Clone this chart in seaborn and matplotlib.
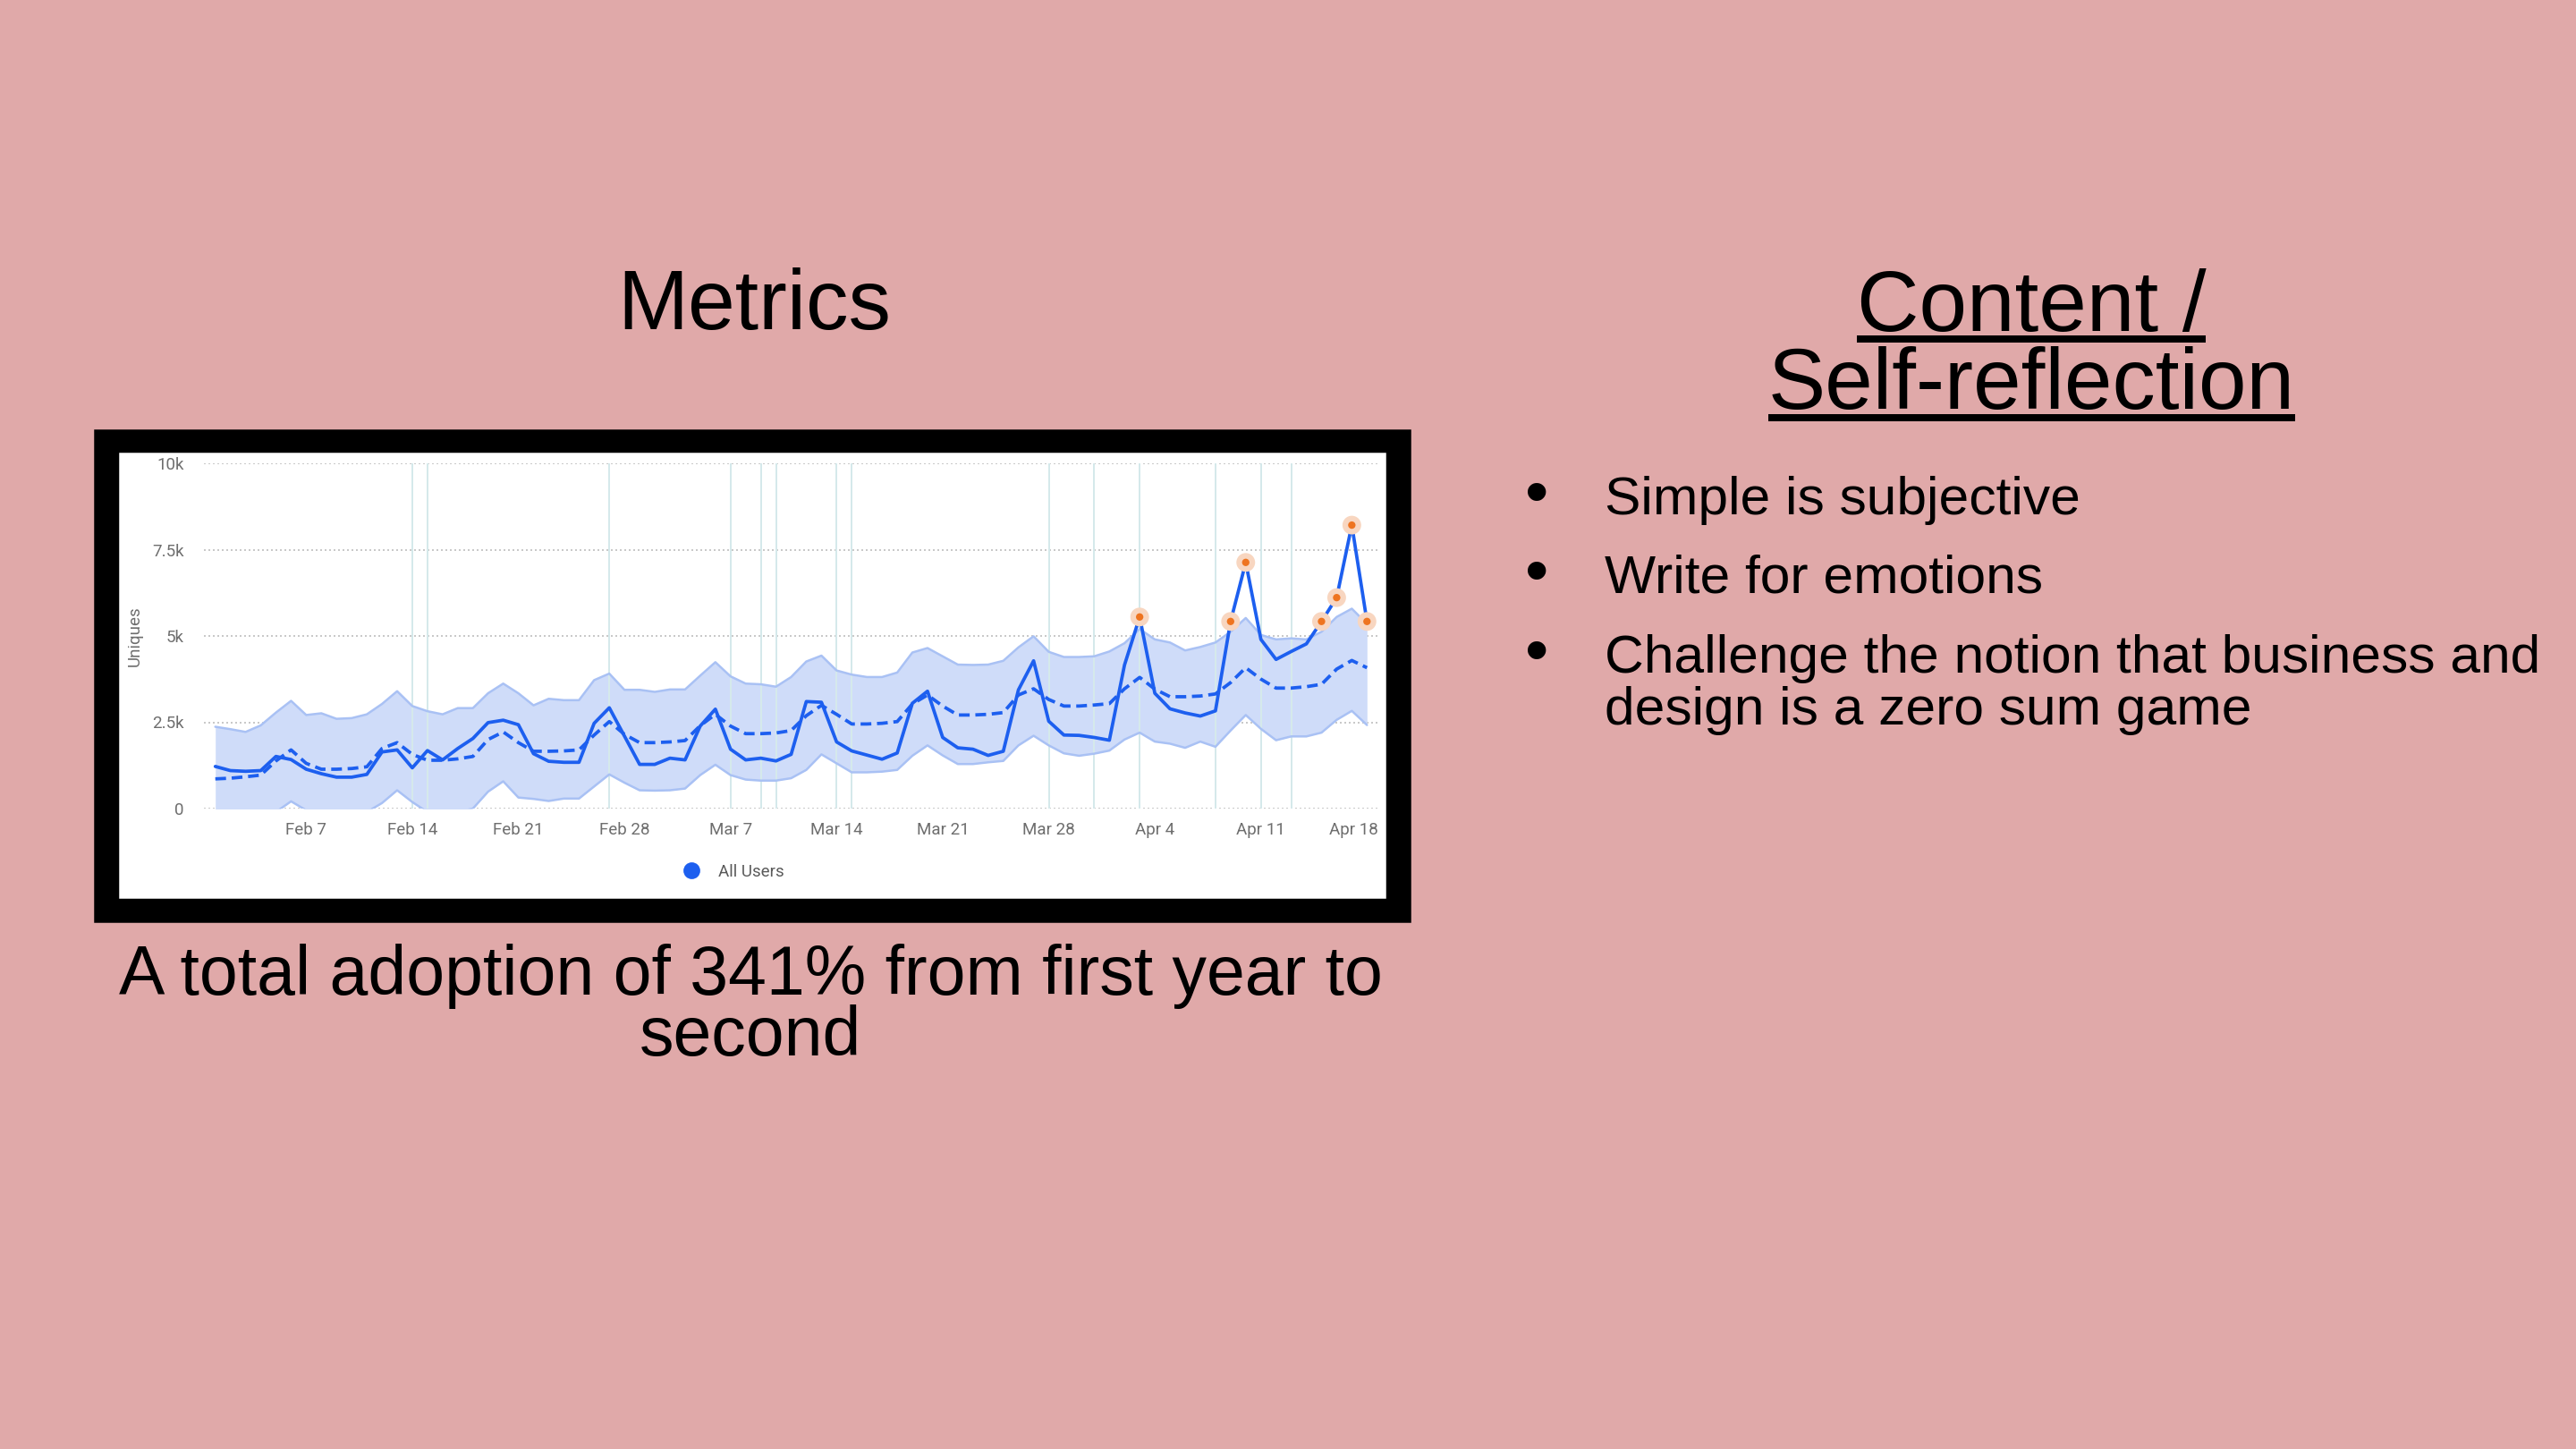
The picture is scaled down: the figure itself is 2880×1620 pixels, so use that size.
import pandas as pd
import matplotlib.pyplot as plt
import seaborn as sns
import numpy as np
from matplotlib.patches import Rectangle
from matplotlib.lines import Line2D
from matplotlib.transforms import ScaledTranslation

sns.set_style("white")
plt.rcParams['font.family'] = ['Liberation Sans', 'DejaVu Sans']
plt.rcParams['text.color'] = 'black'

## data: daily uniques, Feb 1 - Apr 18
dates = pd.date_range('2021-02-01', '2021-04-18', freq='D')

actual = [1220, 1100, 1080, 1100, 1510, 1420, 1140, 1010, 910, 910,
          990, 1640, 1700, 1180, 1680, 1410, 1740, 2030, 2490, 2560,
          2430, 1590, 1370, 1340, 1340, 2470, 2920, 2100, 1280, 1280,
          1460, 1410, 2390, 2880, 1720, 1410, 1460, 1380, 1570, 3100,
          3080, 1930, 1670, 1550, 1430, 1610, 3050, 3400, 2060, 1760,
          1720, 1540, 1660, 3440, 4280, 2530, 2130, 2120, 2060, 1980,
          4160, 5550, 3340, 2890, 2770, 2680, 2830, 5420, 7130, 4900,
          4320, 4550, 4770, 5420, 6110, 8210, 5420]

expected = [860, 880, 920, 970, 1380, 1700, 1310, 1140, 1140, 1160,
            1210, 1740, 1910, 1570, 1400, 1400, 1440, 1510, 2000, 2220,
            1910, 1660, 1660, 1670, 1700, 2130, 2520, 2150, 1910, 1910,
            1930, 1970, 2400, 2730, 2390, 2170, 2170, 2190, 2260, 2690,
            2990, 2730, 2450, 2450, 2470, 2520, 3030, 3290, 2970, 2710,
            2710, 2730, 2780, 3290, 3470, 3160, 2970, 2970, 3000, 3040,
            3470, 3800, 3460, 3240, 3240, 3260, 3320, 3650, 4080, 3750,
            3490, 3490, 3530, 3600, 4040, 4290, 4080]

upper = [2370, 2300, 2220, 2410, 2780, 3120, 2710, 2760, 2600, 2620,
         2730, 3030, 3400, 2970, 2820, 2730, 2910, 2910, 3340, 3620,
         3340, 2990, 3180, 3140, 3140, 3720, 3910, 3440, 3440, 3380,
         3450, 3450, 3850, 4240, 3830, 3620, 3600, 3530, 3810, 4260,
         4430, 4000, 3880, 3810, 3810, 3940, 4520, 4650, 4410, 4170,
         4160, 4170, 4280, 4670, 4990, 4540, 4390, 4390, 4410, 4550,
         4790, 5200, 4900, 4810, 4580, 4680, 4810, 5120, 5520, 5030,
         4900, 4930, 4900, 5120, 5550, 5790, 5350]

lower = [-400, -500, -300, -100, -100, 210, -50, -200, -300, -300,
         -100, 160, 530, 190, -100, -200, -100, 0, 490, 790,
         320, 280, 220, 290, 290, 640, 990, 750, 530, 520,
         530, 580, 970, 1270, 970, 840, 810, 810, 880, 1120,
         1570, 1310, 1050, 1050, 1070, 1120, 1530, 1830, 1540, 1290,
         1290, 1340, 1380, 1830, 2110, 1830, 1600, 1530, 1590, 1680,
         2000, 2200, 1940, 1880, 1760, 1940, 1790, 2260, 2710, 2310,
         1980, 2090, 2090, 2200, 2570, 2830, 2420]

# light vertical annotation lines
event_dates = pd.to_datetime(['2021-02-14', '2021-02-15', '2021-02-27', '2021-03-07',
                              '2021-03-09', '2021-03-10', '2021-03-14', '2021-03-15',
                              '2021-03-28', '2021-03-31', '2021-04-03', '2021-04-08',
                              '2021-04-11', '2021-04-13'])

tick_dates = pd.to_datetime(['2021-02-07', '2021-02-14', '2021-02-21', '2021-02-28',
                             '2021-03-07', '2021-03-14', '2021-03-21', '2021-03-28',
                             '2021-04-04', '2021-04-11', '2021-04-18'])
tick_labels = ['Feb 7', 'Feb 14', 'Feb 21', 'Feb 28', 'Mar 7', 'Mar 14',
               'Mar 21', 'Mar 28', 'Apr 4', 'Apr 11', 'Apr 18']
y_ticks = [0, 2500, 5000, 7500, 10000]
y_labels = ['0', '2.5k', '5k', '7.5k', '10k']

bullets = ['Simple is subjective', 'Write for emotions',
           'Challenge the notion that business and\ndesign is a zero sum game']

df = pd.DataFrame({'date': dates, 'actual': actual, 'expected': expected,
                   'upper': upper, 'lower': lower})
anom = df[df['actual'] > df['upper']]

BG = '#e0a9a9'
BLUE = '#1d5fef'
W, H = 2880, 1620

fig = plt.figure(figsize=(16, 9), dpi=180, facecolor=BG)

## picture frame of the screenshot
fig.patches.append(Rectangle((106 / W, 1 - 1030 / H), 1470 / W, 549 / H,
                             transform=fig.transFigure, color='black', zorder=-3))
fig.patches.append(Rectangle((134 / W, 1 - 1003 / H), 1414 / W, 496 / H,
                             transform=fig.transFigure, color='white', zorder=-2))

ax = fig.add_axes([228 / W, 1 - 904 / H, 1313 / W, 386 / H])
ax.set_zorder(1)
ax.set_facecolor('white')

# band
ax.fill_between(df['date'], df['lower'], df['upper'], color='#cfdcf9', lw=0, zorder=1)
sns.lineplot(data=df, x='date', y='upper', ax=ax, color='#a9c1f4', lw=1.0, zorder=2)
sns.lineplot(data=df, x='date', y='lower', ax=ax, color='#a9c1f4', lw=1.0, zorder=2)

for d in event_dates:
    ax.axvline(d, color='#d5e9eb', lw=0.8, zorder=1.5)

sns.lineplot(data=df, x='date', y='expected', ax=ax, color=BLUE, lw=1.5,
             linestyle=(0, (3.2, 1.7)), zorder=3)
sns.lineplot(data=df, x='date', y='actual', ax=ax, color=BLUE, lw=1.5, zorder=4)

# anomaly markers
sns.scatterplot(data=anom, x='date', y='actual', ax=ax, s=70, color='#f8d6c0',
                edgecolor='none', zorder=5)
sns.scatterplot(data=anom, x='date', y='actual', ax=ax, s=11, color='#ee7420',
                edgecolor='none', zorder=6)

ax.set_ylim(0, 10000)
ax.set_xlim(dates[0] - pd.Timedelta(hours=18), dates[-1] + pd.Timedelta(hours=18))
ax.set_yticks(y_ticks)
ax.set_yticklabels(y_labels)
ax.set_xticks(tick_dates)
ax.set_xticklabels(tick_labels)
ax.tick_params(axis='both', length=0, labelsize=7.5, colors='#6e6e6e')
ax.tick_params(axis='x', pad=6)
ax.tick_params(axis='y', pad=9)
for lbl in ax.get_xticklabels() + ax.get_yticklabels():
    lbl.set_family(['Roboto', 'DejaVu Sans'])
last = ax.get_xticklabels()[-1]
last.set_transform(last.get_transform() + ScaledTranslation(-15 / 180, 0, fig.dpi_scale_trans))

ax.yaxis.grid(True, linestyle=(0, (1, 1.5)), color='#c9c9c9', lw=0.8)
ax.xaxis.grid(False)
ax.set_axisbelow(True)
for s in ax.spines.values():
    s.set_visible(False)
ax.set_xlabel('')
ax.set_ylabel('Uniques', fontsize=7.5, color='#6e6e6e', family=['Roboto', 'DejaVu Sans'])
ax.yaxis.set_label_coords(-0.052, 0.5)

fig.legend(handles=[Line2D([], [], marker='o', ls='', color=BLUE, markersize=6.5)],
           labels=['All Users'], loc='center', bbox_to_anchor=(815 / W, 1 - 975 / H),
           frameon=False, handletextpad=0.6, prop={'family': 'Roboto', 'size': 7.5},
           labelcolor='#5a5a5a')

## slide text
fig.text(843 / W, 1 - 368 / H, 'Metrics', ha='center', va='baseline', fontsize=38)
fig.text(839 / W, 1 - 1112 / H, 'A total adoption of 341% from first year to',
         ha='center', va='baseline', fontsize=30.8)
fig.text(839 / W, 1 - 1180 / H, 'second', ha='center', va='baseline', fontsize=30.8)

t1 = fig.text(2271 / W, 1 - 370 / H, 'Content /', ha='center', va='baseline', fontsize=38.5)
t2 = fig.text(2271 / W, 1 - 457 / H, 'Self-reflection', ha='center', va='baseline', fontsize=38.5)
renderer = fig.canvas.get_renderer()
for t, uy in [(t1, 379), (t2, 467)]:
    bb = t.get_window_extent(renderer)
    fig.add_artist(Line2D([bb.x0 / fig.bbox.width, bb.x1 / fig.bbox.width],
                          [1 - uy / H, 1 - uy / H], transform=fig.transFigure,
                          color='black', lw=3.2, solid_capstyle='butt'))

bullet_y = [575, 663, 752]
for txt, by in zip(bullets, bullet_y):
    fig.text(1718 / W, 1 - by / H, '\u2022', ha='center', va='baseline', fontsize=30)
    lines = txt.split('\n')
    for i, ln in enumerate(lines):
        fig.text(1794 / W, 1 - (by + i * 58.5) / H, ln, ha='left', va='baseline', fontsize=24.2)

fig.savefig('out.png', dpi=180, facecolor=fig.get_facecolor())
